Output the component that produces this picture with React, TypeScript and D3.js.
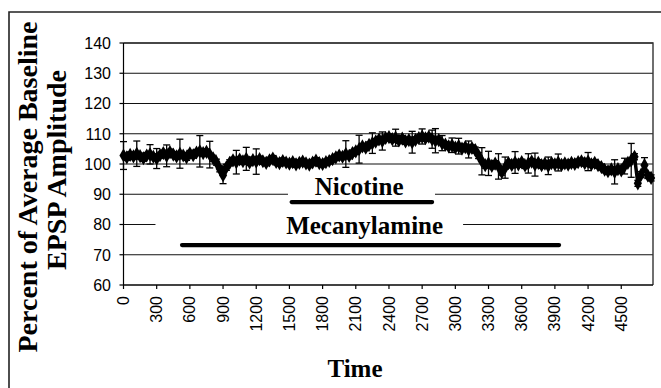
import React from "react";
import * as d3 from "d3";

// ---- data ----
const SAMPLE_INTERVAL = 30; // seconds between points
const EPSP_VALUES: number[] = [
  102.8, 102.2, 103.0, 102.5, 103.4, 102.6, 101.9, 102.8, 103.2, 102.4,
  101.8, 102.9, 103.6, 102.7, 103.9, 103.1, 102.5, 103.4, 102.8, 102.2,
  103.5, 102.9, 103.8, 104.2, 103.6, 104.0, 103.1, 101.9, 100.6, 98.4,
  96.3, 98.9, 100.4, 101.2, 100.6, 101.5, 100.9, 101.7, 100.5, 101.3,
  100.8, 101.6, 100.9, 100.4, 101.2, 101.8, 100.7, 100.3, 101.0, 100.5,
  100.1, 100.6, 99.9, 100.4, 100.8, 100.2, 99.8, 100.5, 101.1, 100.3,
  100.0, 100.6, 101.0, 101.6, 102.2, 102.8, 102.4, 103.3, 102.7, 103.6,
  104.2, 104.9, 105.8, 105.4, 106.3, 106.9, 107.4, 108.1, 107.6, 108.6,
  108.9, 108.2, 108.7, 107.8, 108.4, 107.5, 107.9, 107.2, 108.0, 108.6,
  109.1, 108.5, 109.0, 108.2, 107.7, 107.9, 106.9, 106.4, 105.8, 106.2,
  105.4, 105.9, 105.1, 105.6, 104.8, 105.3, 104.6, 102.8, 100.9, 99.6,
  100.2, 99.4, 100.1, 99.2, 97.3, 98.8, 100.3, 99.7, 100.5, 99.9,
  100.6, 99.5, 100.2, 100.8, 99.8, 100.4, 99.6, 100.1, 99.4, 100.3,
  99.9, 100.5, 99.7, 100.2, 99.8, 100.4, 100.0, 100.6, 100.9, 100.3,
  100.8, 99.9, 100.4, 99.6, 99.0, 98.1, 97.6, 98.2, 97.4, 98.3,
  97.9, 99.3, 100.4, 101.2, 102.4, 93.6, 96.5, 99.6, 96.2, 95.4,
];
const EPSP_SEM: number[] = [
  4.6, 1, 1, 1, 4.2, 1, 1, 1, 3.2, 1,
  3.3, 1, 1, 3.6, 1, 1, 1, 4.8, 1, 1,
  1, 1, 1, 5.2, 1, 1, 4.4, 1, 1, 1,
  2.8, 1, 1, 1, 3.9, 1, 1, 3.8, 1, 1,
  4.2, 1, 1, 1, 1, 1, 1, 1, 1, 1,
  1, 1, 1, 1, 1, 1, 1, 1, 1, 1,
  1, 1, 1, 1, 1, 1, 1, 4.4, 1, 1,
  1, 4.6, 1, 1, 1, 3.4, 1, 1, 3.0, 1,
  1, 1, 2.8, 1, 1, 1, 1, 3.6, 1, 1,
  2.5, 1, 1, 3.0, 4.0, 1, 2.5, 1, 1, 2.4,
  1, 2.6, 1, 1, 2.8, 1, 1, 1, 4.5, 1,
  4.0, 1, 1, 4.2, 1, 3.5, 1, 1, 3.6, 1,
  1, 1, 3.2, 1, 3.8, 1, 1, 1, 2.9, 1,
  1, 2.8, 1, 1, 1, 1, 1, 1, 1, 1,
  3.0, 1, 1, 1, 1, 1, 1, 1, 4.0, 1,
  1, 2.6, 1, 5.6, 1, 1, 1, 2.5, 1, 1,
];
const X_TICKS: number[] = [0, 300, 600, 900, 1200, 1500, 1800, 2100, 2400, 2700, 3000, 3300, 3600, 3900, 4200, 4500];
const Y_TICKS: number[] = [60, 70, 80, 90, 100, 110, 120, 130, 140];
const X_MAX = 4787;

// treatment periods: label, label position (time, value), bar start/end time, bar value
const TREATMENT_LABELS = ["Nicotine", "Mecanylamine"];
const TREATMENT_LABEL_T = [2130, 2180];
const TREATMENT_LABEL_V = [89.75, 76.9];
const TREATMENT_START = [1520, 529];
const TREATMENT_END = [2790, 3938];
const TREATMENT_BAR_V = [87.4, 73.2];
const LABEL_MASK_START = [1487, 289];
const LABEL_MASK_END = [2816, 3070];

const W = 661;
const H = 388;
const M = { left: 123.5, right: 653, top: 43, bottom: 285 };

export default function App() {
  const x = d3.scaleLinear().domain([0, X_MAX]).range([M.left, M.right]);
  const y = d3.scaleLinear().domain([60, 140]).range([M.bottom, M.top]);
  const pts = EPSP_VALUES.map((v, i) => ({ t: i * SAMPLE_INTERVAL, v, e: EPSP_SEM[i] }));
  const line = d3
    .line<{ t: number; v: number }>()
    .x((d) => x(d.t))
    .y((d) => y(d.v));
  const diamond = d3.symbol().type(d3.symbolDiamond).size(58)() as string;
  const serif = "Liberation Serif, Tinos, Times New Roman, DejaVu Serif, serif";
  const sans = "Liberation Sans, Arimo, Arial, sans-serif";
  const capW = 3.5;

  return (
    <svg
      width={W}
      height={H}
      style={{ position: "absolute", left: 0, top: 0, background: "#fff" }}
    >
      <rect x={0} y={0} width={W} height={H} fill="#fff" />
      {/* outer chart frame */}
      <path d={`M9,${H} V12 H${W}`} fill="none" stroke="#222" strokeWidth={1.6} />

      {/* gridlines */}
      {Y_TICKS.map((t) => (
        <line key={t} x1={M.left} x2={M.right} y1={y(t)} y2={y(t)} stroke="#111" strokeWidth={1.1} />
      ))}
      {/* plot border top/right */}
      <path d={`M${M.left},${M.top} H${M.right} V${M.bottom}`} fill="none" stroke="#333" strokeWidth={1.4} />

      {/* axes */}
      <line x1={M.left} x2={M.left} y1={M.top} y2={M.bottom} stroke="#000" strokeWidth={1.2} />
      <line x1={M.left} x2={M.right} y1={M.bottom} y2={M.bottom} stroke="#000" strokeWidth={1.2} />
      {Y_TICKS.map((t) => (
        <g key={t}>
          <line x1={M.left - 4} x2={M.left} y1={y(t)} y2={y(t)} stroke="#000" strokeWidth={1.2} />
          <text x={111} y={y(t)} dy="0.36em" textAnchor="end" fontFamily={sans} fontSize={16} fill="#000" style={{ fontFamily: sans }}>
            {t}
          </text>
        </g>
      ))}
      {X_TICKS.map((t) => (
        <g key={t}>
          <line x1={x(t)} x2={x(t)} y1={M.bottom} y2={M.bottom + 4} stroke="#000" strokeWidth={1.2} />
          <text
            transform={`translate(${x(t) + 5.6},${M.bottom + 11}) rotate(-90)`}
            textAnchor="end"
            fontSize={16}
            fill="#000"
            style={{ fontFamily: sans }}
          >
            {t}
          </text>
        </g>
      ))}

      {/* treatment annotations */}
      {TREATMENT_LABELS.map((lab, i) => (
        <g key={lab}>
          <rect
            x={x(LABEL_MASK_START[i])}
            width={x(LABEL_MASK_END[i]) - x(LABEL_MASK_START[i])}
            y={y(TREATMENT_LABEL_V[i]) - 20}
            height={24}
            fill="#fff"
          />
          <text
            x={x(TREATMENT_LABEL_T[i])}
            y={y(TREATMENT_LABEL_V[i])}
            textAnchor="middle"
            fontWeight="bold"
            fontSize={25}
            fill="#000"
            style={{ fontFamily: serif }}
          >
            {lab}
          </text>
          <line
            x1={x(TREATMENT_START[i])}
            x2={x(TREATMENT_END[i])}
            y1={y(TREATMENT_BAR_V[i])}
            y2={y(TREATMENT_BAR_V[i])}
            stroke="#000"
            strokeWidth={4.2}
            strokeLinecap="round"
          />
        </g>
      ))}

      {/* series */}
      <g>
        {pts.map((d, i) => (
          <g key={"e" + i} stroke="#000" strokeWidth={1.3}>
            <line x1={x(d.t)} x2={x(d.t)} y1={y(d.v - d.e)} y2={y(d.v + d.e)} />
            <line x1={x(d.t) - capW} x2={x(d.t) + capW} y1={y(d.v - d.e)} y2={y(d.v - d.e)} />
            <line x1={x(d.t) - capW} x2={x(d.t) + capW} y1={y(d.v + d.e)} y2={y(d.v + d.e)} />
          </g>
        ))}
        <path d={line(pts) || ""} fill="none" stroke="#000" strokeWidth={3.5} />
        {pts.map((d, i) => (
          <path key={"m" + i} d={diamond} transform={`translate(${x(d.t)},${y(d.v)})`} fill="#000" />
        ))}
      </g>

      {/* axis titles */}
      <text
        transform={`translate(37,187) rotate(-90)`}
        textAnchor="middle"
        fontWeight="bold"
        fontSize={28}
        fill="#000"
        style={{ fontFamily: serif }}
      >
        Percent of Average Baseline
      </text>
      <text
        transform={`translate(66,170) rotate(-90)`}
        textAnchor="middle"
        fontWeight="bold"
        fontSize={28}
        fill="#000"
        style={{ fontFamily: serif }}
      >
        EPSP Amplitude
      </text>
      <text x={355} y={377} textAnchor="middle" fontWeight="bold" fontSize={25} fill="#000" style={{ fontFamily: serif }}>
        Time
      </text>
    </svg>
  );
}
